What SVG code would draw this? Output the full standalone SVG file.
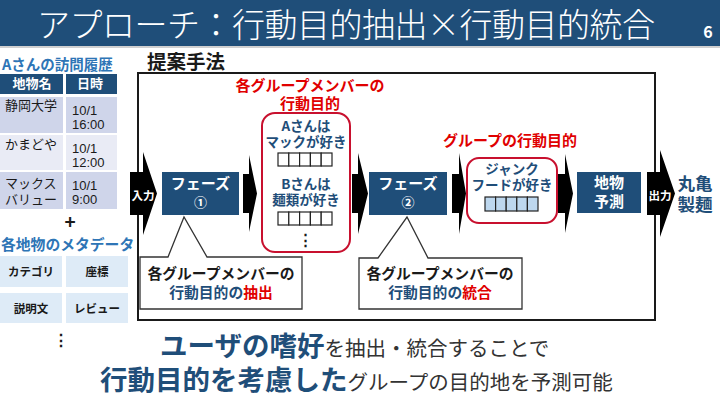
<svg xmlns="http://www.w3.org/2000/svg" width="720" height="404" viewBox="0 0 720 404">
<style>
text { font-family: "Noto Sans CJK JP", "Noto Sans CJK SC", sans-serif; }
.num { font-family: "Liberation Sans", "Noto Sans CJK JP", sans-serif; }
.b { font-weight: 700; }
.c { text-anchor: middle; }
.w { fill: #ffffff; }
.db { fill: #1F4E79; }
.mb { fill: #2E75B6; }
.red { fill: #E00000; }
.k { fill: #1a1a1a; }
.g { fill: #333333; }
.phase { fill: #1F4E79; }
.arrow { fill: #000000; }
.rbox { fill: #ffffff; stroke: #C8102E; stroke-width: 2; }
.callout { fill: #ffffff; stroke: #333333; stroke-width: 1.3; }
.sq { fill: #ffffff; stroke: #222222; stroke-width: 1.2; }
.sqf { fill: #BDD7EE; stroke: #222222; stroke-width: 1.2; }
.th { fill: #1F4E79; }
.r1 { fill: #CFD5EA; }
.r2 { fill: #E9EBF5; }
.meta { fill: #DEEBF7; }
</style>

<g id="header">
  <rect x="0" y="0" width="720" height="46" fill="#1F4E79"/>
  <rect x="0" y="46" width="720" height="2" fill="#d0d0d0"/>
  <text x="37" y="37" font-size="33" font-weight="300" class="w" textLength="618" lengthAdjust="spacing">アプローチ：行動目的抽出×行動目的統合</text>
  <text x="708" y="38" font-size="16" class="w b c">6</text>
</g>

<g id="history">
  <text x="2" y="70" font-size="14.5" class="mb b">Aさんの訪問履歴</text>
  <rect x="0" y="74" width="63" height="20" class="th"/>
  <rect x="66" y="74" width="51" height="20" class="th"/>
  <text x="32" y="88" font-size="13" class="w b c">地物名</text>
  <text x="90" y="88" font-size="13" class="w b c">日時</text>
  <rect x="0" y="97" width="63" height="36" class="r1"/>
  <rect x="66" y="97" width="51" height="36" class="r1"/>
  <rect x="0" y="135" width="63" height="35" class="r2"/>
  <rect x="66" y="135" width="51" height="35" class="r2"/>
  <rect x="0" y="172" width="63" height="37" class="r1"/>
  <rect x="66" y="172" width="51" height="37" class="r1"/>
  <text x="5" y="110" font-size="13" class="k">静岡大学</text>
  <text x="72" y="115" font-size="13" class="k num">10/1<tspan x="72" dy="14">16:00</tspan></text>
  <text x="5" y="149" font-size="13" class="k">かまどや</text>
  <text x="72" y="153" font-size="13" class="k num">10/1<tspan x="72" dy="14">12:00</tspan></text>
  <text x="5" y="188" font-size="13" class="k">マックス<tspan x="5" dy="16">バリュー</tspan></text>
  <text x="72" y="190" font-size="13" class="k num">10/1<tspan x="72" dy="14">9:00</tspan></text>
</g>

<g id="plus">
  <text x="70" y="229" font-size="19" class="k b c">+</text>
</g>

<g id="metadata">
  <text x="1" y="250" font-size="14.8" class="mb b">各地物のメタデータ</text>
  <rect x="0" y="256" width="62" height="31" class="meta"/>
  <rect x="66" y="256" width="62" height="31" class="meta"/>
  <rect x="0" y="293" width="62" height="30" class="meta"/>
  <rect x="66" y="293" width="62" height="30" class="meta"/>
  <text x="31" y="276" font-size="11.5" class="k b c">カテゴリ</text>
  <text x="97" y="276" font-size="11.5" class="k b c">座標</text>
  <text x="31" y="313" font-size="11.5" class="k b c">説明文</text>
  <text x="97" y="313" font-size="11.5" class="k b c">レビュー</text>
  <text x="61" y="346" font-size="16" class="k b c">⋮</text>
</g>

<g id="method">
  <text x="147" y="69" font-size="19.5" class="k b">提案手法</text>
  <rect x="138" y="73" width="517" height="247" fill="none" stroke="#1a1a1a" stroke-width="2"/>
</g>

<g id="connectors">
  <path class="arrow" d="M130,172 H143 V152 L157,193.5 L143,235 V215 H130 Z"/>
  <path class="arrow" d="M243,174 H249 V155 L257,193.5 L249,232 V213 H243 Z"/>
  <path class="arrow" d="M352,174 H358 V153 L368,193.5 L358,234 V213 H352 Z"/>
  <path class="arrow" d="M452,174 H459 V153 L466,193.5 L459,234 V213 H452 Z"/>
  <path class="arrow" d="M558,174 H565 V154 L573,193.5 L565,233 V213 H558 Z"/>
  <path class="arrow" d="M647,172 H660 V150 L675,193.5 L660,237 V215 H647 Z"/>
  <text x="143" y="200" font-size="11.5" class="w b c">入力</text>
  <text x="660" y="200" font-size="11.5" class="w b c">出力</text>
</g>

<g id="phase1">
  <rect x="162" y="172" width="77" height="43" class="phase"/>
  <text x="200.5" y="189" font-size="15" class="w b c">フェーズ<tspan x="200.5" dy="18" font-size="13">①</tspan></text>
</g>

<g id="member-purposes">
  <text x="310" y="91" font-size="15" class="red b c">各グループメンバーの<tspan x="310" dy="18">行動目的</tspan></text>
  <rect x="262" y="113" width="88" height="139" rx="13" class="rbox"/>
  <text x="306" y="131" font-size="13.5" class="db b c">Aさんは<tspan x="306" dy="16">マックが好き</tspan></text>
  <rect x="278" y="153" width="10.8" height="13" class="sq"/>
  <rect x="288.8" y="153" width="10.8" height="13" class="sq"/>
  <rect x="299.6" y="153" width="10.8" height="13" class="sq"/>
  <rect x="310.4" y="153" width="10.8" height="13" class="sq"/>
  <rect x="321.2" y="153" width="10.8" height="13" class="sq"/>
  <text x="306" y="189" font-size="13.5" class="db b c">Bさんは<tspan x="306" dy="16">麺類が好き</tspan></text>
  <rect x="278" y="212" width="10.8" height="13" class="sq"/>
  <rect x="288.8" y="212" width="10.8" height="13" class="sq"/>
  <rect x="299.6" y="212" width="10.8" height="13" class="sq"/>
  <rect x="310.4" y="212" width="10.8" height="13" class="sq"/>
  <rect x="321.2" y="212" width="10.8" height="13" class="sq"/>
  <text x="305" y="245" font-size="15" class="k b c">⋮</text>
</g>

<g id="phase2">
  <rect x="369" y="172" width="78" height="43" class="phase"/>
  <text x="408" y="189" font-size="15" class="w b c">フェーズ<tspan x="408" dy="18" font-size="13">②</tspan></text>
</g>

<g id="group-purpose">
  <text x="510" y="146" font-size="15" class="red b c">グループの行動目的</text>
  <rect x="467" y="158" width="90" height="65" rx="12" class="rbox"/>
  <text x="512" y="174" font-size="13.5" class="db b c">ジャンク<tspan x="512" dy="16">フードが好き</tspan></text>
  <rect x="485" y="197" width="10.6" height="14" class="sqf"/>
  <rect x="495.6" y="197" width="10.6" height="14" class="sqf"/>
  <rect x="506.2" y="197" width="10.6" height="14" class="sqf"/>
  <rect x="516.8" y="197" width="10.6" height="14" class="sqf"/>
  <rect x="527.4" y="197" width="10.6" height="14" class="sqf"/>
</g>

<g id="predict">
  <rect x="577" y="172" width="64" height="41" class="phase"/>
  <text x="609" y="188" font-size="15" class="w b c">地物<tspan x="609" dy="19">予測</tspan></text>
</g>

<g id="output">
  <text x="695" y="190" font-size="17.5" class="db b c">丸亀<tspan x="695" dy="21">製麺</tspan></text>
</g>

<g id="callout1">
  <path class="callout" d="M140,257 H168 L184,217 L207,257 H302 V309 H140 Z"/>
  <text x="221" y="279" font-size="14.8" class="b c"><tspan class="k">各グループメンバーの</tspan><tspan x="221" dy="19" class="db">行動目的の</tspan><tspan class="red">抽出</tspan></text>
</g>

<g id="callout2">
  <path class="callout" d="M359,258 H378 L407,217 L428,258 H522 V309 H359 Z"/>
  <text x="440" y="279" font-size="14.8" class="b c"><tspan class="k">各グループメンバーの</tspan><tspan x="440" dy="19" class="db">行動目的の</tspan><tspan class="red">統合</tspan></text>
</g>

<g id="summary">
  <text x="160" y="356"><tspan font-size="27.5" class="db b">ユーザの嗜好</tspan><tspan font-size="20.5" class="g">を抽出・統合することで</tspan></text>
  <text x="100" y="390"><tspan font-size="27.5" class="db b">行動目的を考慮した</tspan><tspan font-size="20.5" class="g">グループの目的地を予測可能</tspan></text>
</g>
</svg>
